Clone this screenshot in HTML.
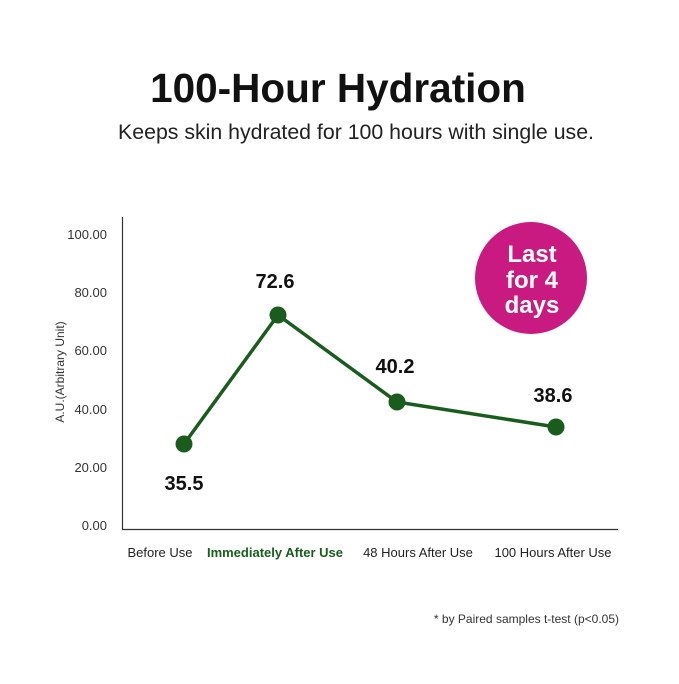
<!DOCTYPE html>
<html><head><style>
body{margin:0;background:#fff;}
svg text{font-family:"Liberation Sans",sans-serif;}
</style></head><body>
<svg width="679" height="679" viewBox="0 0 679 679" xmlns="http://www.w3.org/2000/svg">
<rect width="679" height="679" fill="#fff"/>
<text x="338" y="102" text-anchor="middle" font-size="40.5" font-weight="bold" fill="#111">100-Hour Hydration</text>
<text x="356" y="139" text-anchor="middle" font-size="21.3" fill="#222">Keeps skin hydrated for 100 hours with single use.</text>
<line x1="122.5" y1="217" x2="122.5" y2="529" stroke="#333" stroke-width="1.2"/>
<line x1="122" y1="529.5" x2="618" y2="529.5" stroke="#333" stroke-width="1.2"/>
<g font-size="13" fill="#333" text-anchor="end">
<text x="107" y="239">100.00</text>
<text x="107" y="297">80.00</text>
<text x="107" y="355">60.00</text>
<text x="107" y="414">40.00</text>
<text x="107" y="472">20.00</text>
<text x="107" y="530">0.00</text>
</g>
<text transform="translate(64,372) rotate(-90)" text-anchor="middle" font-size="12" fill="#333">A.U.(Arbitrary Unit)</text>
<polyline points="184,444 278,315 397,402 556,427" fill="none" stroke="#1a5c1e" stroke-width="3.5" stroke-linejoin="round"/>
<g fill="#1a5c1e">
<circle cx="184" cy="444" r="8.5"/><circle cx="278" cy="315" r="8.5"/><circle cx="397" cy="402" r="8.5"/><circle cx="556" cy="427" r="8.5"/>
</g>
<g font-size="20" font-weight="bold" fill="#111" text-anchor="middle">
<text x="184" y="490">35.5</text>
<text x="275" y="288">72.6</text>
<text x="395" y="373">40.2</text>
<text x="553" y="402">38.6</text>
</g>
<circle cx="531" cy="278" r="56" fill="#c81a80"/>
<g font-size="24" font-weight="bold" fill="#fff" text-anchor="middle">
<text x="532" y="262">Last</text>
<text x="532" y="288">for 4</text>
<text x="532" y="313">days</text>
</g>
<g font-size="13" text-anchor="middle">
<text x="160" y="557" fill="#222">Before Use</text>
<text x="275" y="557" fill="#1a5c1e" font-weight="bold">Immediately After Use</text>
<text x="418" y="557" fill="#222">48 Hours After Use</text>
<text x="553" y="557" fill="#222">100 Hours After Use</text>
</g>
<text x="619" y="623" text-anchor="end" font-size="12" fill="#333">* by Paired samples  t-test (p&lt;0.05)</text>
</svg>
</body></html>
